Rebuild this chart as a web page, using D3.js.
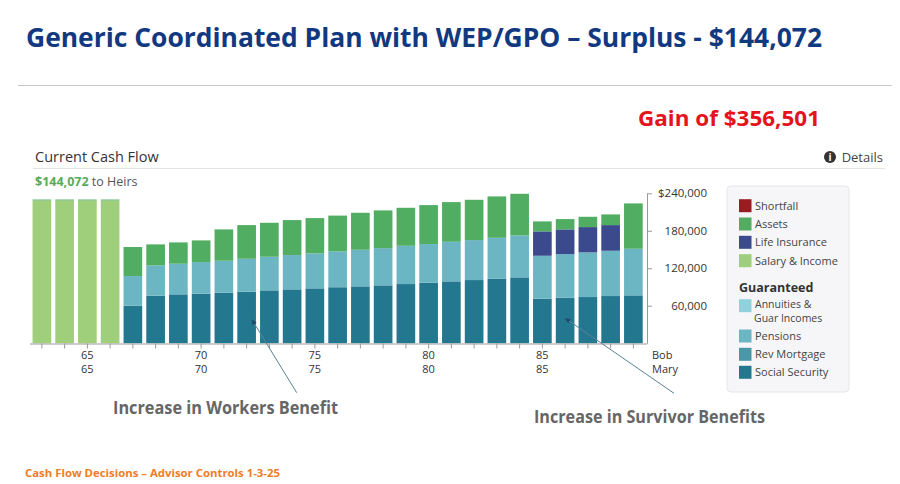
<!DOCTYPE html>
<html><head><meta charset="utf-8">
<script src="https://cdn.jsdelivr.net/npm/d3@7"></script>
<style>
html,body{margin:0;padding:0;background:#fff;}
svg{display:block;}
text{font-family:"Open Sans",sans-serif;}
</style></head>
<body>
<svg id="chart" width="900" height="484"></svg>
<script>
// ---------- data ----------
const ages = [63,64,65,66,67,68,69,70,71,72,73,74,75,76,77,78,79,80,81,82,83,84,85,86,87,88,89];
const salaryIncome   = [228500,228500,228500,228500,0,0,0,0,0,0,0,0,0,0,0,0,0,0,0,0,0,0,0,0,0,0,0];
const socialSecurity = [0,0,0,0,60000,76000,78200,79200,80800,82400,84600,86200,87800,89600,91000,92600,94700,96800,99000,101100,103200,105400,71200,72800,73900,75500,76600];
const revMortgage    = [0,0,0,0,0,0,0,0,0,0,0,0,0,0,0,0,0,0,0,0,0,0,0,0,0,0,0];
const annuities      = [0,0,0,0,0,0,0,0,0,0,0,0,0,0,0,0,0,0,0,0,0,0,0,0,0,0,0];
const pensions       = [0,0,0,0,47500,48600,49000,50700,51200,52800,53800,54900,56000,57400,58600,59700,61300,61900,63400,64000,65600,67200,68800,69900,71500,72500,74600];
const lifeInsurance  = [0,0,0,0,0,0,0,0,0,0,0,0,0,0,0,0,0,0,0,0,0,0,39000,39500,40500,41100,0];
const assets         = [1500,1500,1500,1500,46500,33600,34200,34700,50200,53900,54400,56000,56500,57300,59200,60300,60800,62400,63500,64500,66200,66600,16000,16500,16500,17100,72600];
const shortfall      = [0,0,0,0,0,0,0,0,0,0,0,0,0,0,0,0,0,0,0,0,0,0,0,0,0,0,0];
const yTicks = [60000,120000,180000,240000];
const labelAges = [65,70,75,80,85];
const legendTop = ["Shortfall","Assets","Life Insurance","Salary & Income"];
const legendGuar = ["Annuities &|Guar Incomes","Pensions","Rev Mortgage","Social Security"];

const colors = {
  salary:"#9fcf7b", ss:"#23788f", rev:"#4a97a8", ann:"#8dd2dc", pen:"#6cb5c3",
  life:"#3b4a8c", assets:"#51ad61", short:"#9a1c20"
};

const rows = ages.map((a,i)=>({age:a, salary:salaryIncome[i], ss:socialSecurity[i], rev:revMortgage[i],
  ann:annuities[i], pen:pensions[i], life:lifeInsurance[i], assets:assets[i], short:shortfall[i]}));
const keys = ["salary","ss","rev","ann","pen","life","assets","short"];

const svg = d3.select("#chart");

// ---------- header ----------
svg.append("text").attr("x",26).attr("y",46.5)
  .attr("font-family","Lato, 'Open Sans', sans-serif").attr("font-weight","bold")
  .attr("font-size",27).attr("fill","#12397f")
  .attr("textLength",796).attr("lengthAdjust","spacingAndGlyphs")
  .text("Generic Coordinated Plan with WEP/GPO \u2013 Surplus - $144,072");
svg.append("line").attr("x1",18).attr("x2",892).attr("y1",85.5).attr("y2",85.5)
  .attr("stroke","#c8c8c8").attr("stroke-width",1.2);
svg.append("text").attr("x",638).attr("y",126)
  .attr("font-family","Lato, 'Open Sans', sans-serif").attr("font-weight","bold")
  .attr("font-size",22).attr("fill","#e5131b")
  .attr("textLength",182).attr("lengthAdjust","spacingAndGlyphs")
  .text("Gain of $356,501");

svg.append("text").attr("x",35).attr("y",162).attr("font-size",14.5).attr("fill","#333")
  .text("Current Cash Flow");
svg.append("circle").attr("cx",830).attr("cy",157).attr("r",6).attr("fill","#333");
svg.append("text").attr("x",830).attr("y",161).attr("text-anchor","middle").attr("font-size",10)
  .attr("font-weight","bold").attr("fill","#fff").text("i");
svg.append("text").attr("x",883).attr("y",162).attr("text-anchor","end").attr("font-size",13).attr("fill","#444")
  .text("Details");
svg.append("line").attr("x1",33).attr("x2",885).attr("y1",168.5).attr("y2",168.5).attr("stroke","#e2e2e2");
const heirs = svg.append("text").attr("x",35).attr("y",186).attr("font-size",12.5);
heirs.append("tspan").attr("fill","#58ab5b").attr("font-weight","bold").text("$144,072");
heirs.append("tspan").attr("fill","#555").text(" to Heirs");

// ---------- scales ----------
const x = d3.scaleBand().domain(ages).range([30.5,644.75]).paddingInner(0.18).paddingOuter(0.09);
const y = d3.scaleLinear().domain([0,240000]).range([343.2,193.3]);

const stack = d3.stack().keys(keys)(rows);
svg.append("g").selectAll("g").data(stack).join("g").attr("fill",d=>colors[d.key])
  .selectAll("rect").data(d=>d.filter(s=>s[1]-s[0]>0)).join("rect")
  .attr("x",d=>x(d.data.age)).attr("width",x.bandwidth())
  .attr("y",d=>y(d[1])).attr("height",d=>y(d[0])-y(d[1]));

// x axis
const xAxis = svg.append("g").attr("transform","translate(0,343.5)")
  .call(d3.axisBottom(x).tickSize(5).tickSizeOuter(0).tickFormat(""));
xAxis.select(".domain").attr("stroke","#999").attr("d","M30,0.5H647");
xAxis.selectAll(".tick line").attr("stroke","#999");
xAxis.selectAll(".tick text").remove();
xAxis.selectAll(".tick").each(function(a){
  if(labelAges.includes(a)){
    const g = d3.select(this);
    [15.5,29.5].forEach(yy=>{
      g.append("text").attr("x",0).attr("y",yy).attr("text-anchor","middle")
        .attr("fill","#333").attr("font-size",11).attr("font-family","'Open Sans',sans-serif")
        .text(a);
    });
  }
});
svg.append("text").attr("x",652).attr("y",359).attr("font-size",11).attr("fill","#333").text("Bob");
svg.append("text").attr("x",652).attr("y",373).attr("font-size",11).attr("fill","#333").text("Mary");

// y axis
const yAxis = svg.append("g").attr("transform","translate(647,0)")
  .call(d3.axisRight(y).tickValues(yTicks).tickSize(5).tickSizeOuter(0)
    .tickFormat(d=> d===240000 ? "$"+d3.format(",")(d) : d3.format(",")(d)));
yAxis.select(".domain").attr("stroke","#999");
yAxis.selectAll(".tick line").attr("stroke","#999");
yAxis.selectAll(".tick text").attr("x",60).attr("text-anchor","end").attr("font-size",11.5)
  .attr("fill","#333").attr("font-family","'Open Sans',sans-serif");

// ---------- legend ----------
const lg = svg.append("g");
lg.append("rect").attr("x",727).attr("y",186).attr("width",122).attr("height",206).attr("rx",4)
  .attr("fill","#f6f6f8").attr("stroke","#e6e6e9");
const topCols = [colors.short, colors.assets, colors.life, colors.salary];
const topY = [205.7,224,242.3,260.7];
legendTop.forEach((l,i)=>{
  lg.append("rect").attr("x",739).attr("y",topY[i]-6.5).attr("width",12.5).attr("height",13).attr("fill",topCols[i]);
  lg.append("text").attr("x",755).attr("y",topY[i]+4).attr("font-size",11).attr("fill","#444").text(l);
});
lg.append("text").attr("x",739).attr("y",292).attr("font-size",12.5).attr("font-weight","bold")
  .attr("fill","#333").text("Guaranteed");
const gCols = [colors.ann, colors.pen, colors.rev, colors.ss];
const gY = [305.7,336,354.3,372.3];
legendGuar.forEach((l,i)=>{
  lg.append("rect").attr("x",739).attr("y",gY[i]-6.5).attr("width",12.5).attr("height",13).attr("fill",gCols[i]);
  const parts = l.split("|");
  parts.forEach((p,j)=>{
    const yy = parts.length>1 ? gY[i]+3.5+(j?13:-1) : gY[i]+4;
    lg.append("text").attr("x",j?754:755).attr("y",yy)
      .attr("font-size",parts.length>1?10.5:11).attr("fill","#444").text(p);
  });
});

// ---------- annotations ----------
svg.append("defs").append("marker").attr("id","arr").attr("viewBox","0 0 10 10")
  .attr("refX",9).attr("refY",5).attr("markerWidth",6).attr("markerHeight",6).attr("orient","auto")
  .append("path").attr("d","M0,1L10,5L0,9z").attr("fill","#1f4a6b");
const ann = [
  {age:72, dx:0.78, val:38000, ex:296.7, ey:392.7, text:"Increase in Workers Benefit", tx:113, ty:414, w:225},
  {age:86, dx:0.5,  val:40000, ex:674,   ey:393.3, text:"Increase in Survivor Benefits", tx:534, ty:423, w:231}
];
ann.forEach(a=>{
  svg.append("line").attr("x1",a.ex).attr("y1",a.ey)
    .attr("x2",x(a.age)+x.bandwidth()*a.dx).attr("y2",y(a.val))
    .attr("stroke","#5b8197").attr("stroke-width",1).attr("marker-end","url(#arr)");
  svg.append("text").attr("x",a.tx).attr("y",a.ty).attr("font-family","Lato, 'Open Sans', sans-serif")
    .attr("font-weight","bold").attr("font-size",17).attr("fill","#666")
    .attr("textLength",a.w).attr("lengthAdjust","spacingAndGlyphs").text(a.text);
});

// footer
svg.append("text").attr("x",25).attr("y",477).attr("font-family","Lato, 'Open Sans', sans-serif")
  .attr("font-weight","bold").attr("font-size",11).attr("fill","#f07c25")
  .attr("textLength",255).attr("lengthAdjust","spacingAndGlyphs")
  .text("Cash Flow Decisions \u2013 Advisor Controls 1-3-25");
</script>
</body></html>
